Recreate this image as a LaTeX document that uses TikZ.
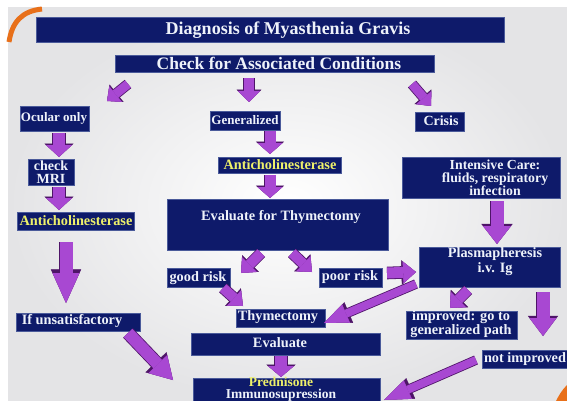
\documentclass[tikz,border=0pt]{standalone}
\usepackage{fontspec}
\setmainfont{Liberation Serif}
\usetikzlibrary{arrows.meta}
\definecolor{navy}{HTML}{0E1A6A}
\definecolor{navyedge}{HTML}{4A5A9A}
\definecolor{txtw}{HTML}{EEF2FA}
\definecolor{txty}{HTML}{EEF06A}
\definecolor{apurple}{HTML}{A848D2}
\definecolor{adark}{HTML}{4E1468}
\definecolor{slideorange}{HTML}{E8701A}
\definecolor{bggray}{HTML}{E4E4E6}
\tikzset{
 bx/.style={fill=navy, draw=navyedge, line width=0.5pt, inner sep=0pt, anchor=north west},
 tx/.style={text=txtw, font=\bfseries\fontsize{14.3}{12.5}\selectfont, align=center, inner sep=0pt},
 ty/.style={tx, text=txty},
 barrow/.style n args={3}{draw=apurple, line width=#1,
   -{Triangle[width=#2,length=#3,line width=0.4pt,fill=apurple]},
   preaction={draw=adark, line width=#1+1.6pt, -{Triangle[width=#2,length=#3,scale=1.12,line width=0.4pt]}}}
}
\begin{document}
\begin{tikzpicture}[x=1pt,y=-1pt]
\useasboundingbox (0,0) rectangle (567,401);
\clip (0,0) rectangle (567,401);
% slide background
\fill[white] (0,0) rectangle (567,401);
\shade[inner color=white, outer color=bggray] (8,8) rectangle (567,401);
\draw[slideorange, line width=5pt] (9,42) .. controls (12,22) and (22,11) .. (42,9);
\fill[slideorange] (556,401) .. controls (559,395) and (562,390) .. (567,385) -- (567,401) -- cycle;

% boxes
\node[bx, minimum width=468pt, minimum height=25pt] (title) at (36,17) {};
\node[bx, minimum width=319pt, minimum height=17pt] (check) at (115,55) {};
\node[bx, minimum width=69pt, minimum height=25pt] (ocular) at (20,106) {};
\node[bx, minimum width=70pt, minimum height=19pt] (gen) at (210,111) {};
\node[bx, minimum width=49pt, minimum height=19pt] (crisis) at (415,112) {};
\node[bx, minimum width=46pt, minimum height=26pt] (mri) at (28,159) {};
\node[bx, minimum width=117pt, minimum height=18pt] (ach1) at (17,212) {};
\node[bx, minimum width=123pt, minimum height=16pt] (ach2) at (218,157) {};
\node[bx, minimum width=221pt, minimum height=51pt] (evt) at (167,199) {};
\node[bx, minimum width=158pt, minimum height=41pt] (ic) at (402,157) {};
\node[bx, minimum width=141pt, minimum height=40pt] (plasma) at (419,247) {};
\node[bx, minimum width=63pt, minimum height=19pt] (good) at (167,268) {};
\node[bx, minimum width=63pt, minimum height=19pt] (poor) at (319,268) {};
\node[bx, minimum width=89pt, minimum height=18pt] (thy) at (236,309) {};
\node[bx, minimum width=189pt, minimum height=22pt] (eval) at (191,333) {};
\node[bx, minimum width=187pt, minimum height=30pt] (pred) at (193,378) {};
\node[bx, minimum width=124pt, minimum height=18pt] (unsat) at (16,313) {};
\node[bx, minimum width=111pt, minimum height=28pt] (impr) at (406,311) {};
\node[bx, minimum width=90pt, minimum height=18pt] (notimp) at (482,350) {};

% texts
\node[tx, font=\bfseries\fontsize{18}{20}\selectfont] (t-title) at (288,30) {Diagnosis of Myasthenia Gravis};
\node[tx, font=\bfseries\fontsize{17.5}{20}\selectfont] (t-check) at (279,63) {Check for Associated Conditions};
\node[tx, font=\bfseries\fontsize{13}{14}\selectfont] (t-ocular) at (54,118) {Ocular only};
\node[tx, font=\bfseries\fontsize{13}{14}\selectfont] (t-gen) at (245,120) {Generalized};
\node[tx, font=\bfseries\fontsize{14}{14}\selectfont] (t-crisis) at (441,121) {Crisis};
\node[tx, font=\bfseries\fontsize{14}{12.5}\selectfont] (t-mri) at (51,172) {check\\MRI};
\node[ty] (t-ach1) at (76,221) {Anticholinesterase};
\node[ty] (t-ach2) at (280,165) {Anticholinesterase};
\node[tx] (t-evt) at (281,217) {Evaluate for Thymectomy};
\node[tx, font=\bfseries\fontsize{13.8}{12.3}\selectfont] (t-ic) at (495,178) {Intensive Care:\\fluids, respiratory\\infection};
\node[tx, font=\bfseries\fontsize{14.3}{15}\selectfont] (t-plasma) at (495,262) {Plasmapheresis\\i.v. Ig};
\node[tx] (t-good) at (198,278) {good risk};
\node[tx] (t-poor) at (350,277) {poor risk};
\node[tx] (t-thy) at (278,317) {Thymectomy};
\node[tx] (t-eval) at (280,343) {Evaluate};
\node[tx, font=\bfseries\fontsize{13.5}{12.5}\selectfont] (t-pred) at (281,389) {\textcolor{txty}{Prednisone}\\Immunosupression};
\node[tx] (t-unsat) at (72,321) {If unsatisfactory};
\node[tx, font=\bfseries\fontsize{14.3}{14}\selectfont] (t-impr) at (461,324) {improved: go to\\generalized path};
\node[tx] (t-notimp) at (525,359) {not improved};

% arrow end points
\coordinate (a1t) at (128,84);  \coordinate (a1h) at (107,101);
\coordinate (a2t) at (249,78);  \coordinate (a2h) at (249,102);
\coordinate (a3t) at (412,84);  \coordinate (a3h) at (431,106);
\coordinate (a4t) at (59,133);  \coordinate (a4h) at (59,157);
\coordinate (a5t) at (59,187);  \coordinate (a5h) at (59,210);
\coordinate (a6t) at (66,242);  \coordinate (a6h) at (66,303);
\coordinate (a7t) at (270,131); \coordinate (a7h) at (270,154);
\coordinate (a8t) at (270,175); \coordinate (a8h) at (270,198);
\coordinate (a9t) at (261,253); \coordinate (a9h) at (241,273);
\coordinate (a10t) at (292,253); \coordinate (a10h) at (312,272);
\coordinate (a11t) at (223,288); \coordinate (a11h) at (243,306);
\coordinate (a12t) at (387,273); \coordinate (a12h) at (416,272);
\coordinate (a13t) at (416,284); \coordinate (a13h) at (324,323);
\coordinate (a14t) at (281,356); \coordinate (a14h) at (281,377);
\coordinate (a15t) at (128,333); \coordinate (a15h) at (173,380);
\coordinate (a16t) at (497,201); \coordinate (a16h) at (497,244);
\coordinate (a17t) at (468,290); \coordinate (a17h) at (450,308);
\coordinate (a18t) at (543,292); \coordinate (a18h) at (543,336);
\coordinate (a19t) at (476,360); \coordinate (a19h) at (384,400);

% arrows
\draw[barrow={9pt}{20pt}{11pt}] (a1t) -- (a1h);
\draw[barrow={10pt}{22pt}{11pt}] (a2t) -- (a2h);
\draw[barrow={9pt}{20pt}{11pt}] (a3t) -- (a3h);
\draw[barrow={12pt}{26pt}{12pt}] (a4t) -- (a4h);
\draw[barrow={12pt}{26pt}{12pt}] (a5t) -- (a5h);
\draw[barrow={13pt}{27pt}{30pt}] (a6t) -- (a6h);
\draw[barrow={11pt}{25pt}{11pt}] (a7t) -- (a7h);
\draw[barrow={11pt}{25pt}{11pt}] (a8t) -- (a8h);
\draw[barrow={10pt}{21pt}{12pt}] (a9t) -- (a9h);
\draw[barrow={10pt}{21pt}{12pt}] (a10t) -- (a10h);
\draw[barrow={10pt}{21pt}{12pt}] (a11t) -- (a11h);
\draw[barrow={11pt}{22pt}{13pt}] (a12t) -- (a12h);
\draw[barrow={8pt}{20pt}{24pt}] (a13t) -- (a13h);
\draw[barrow={12pt}{26pt}{11pt}] (a14t) -- (a14h);
\draw[barrow={12pt}{26pt}{22pt}] (a15t) -- (a15h);
\draw[barrow={13pt}{28pt}{18pt}] (a16t) -- (a16h);
\draw[barrow={10pt}{22pt}{12pt}] (a17t) -- (a17h);
\draw[barrow={13pt}{27pt}{18pt}] (a18t) -- (a18h);
\draw[barrow={8pt}{20pt}{26pt}] (a19t) -- (a19h);
\end{tikzpicture}
\end{document}
